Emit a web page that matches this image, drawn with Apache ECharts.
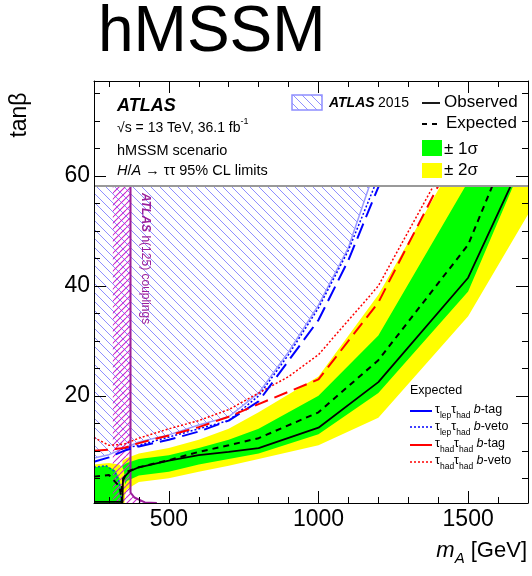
<!DOCTYPE html>
<html><head><meta charset="utf-8">
<script src="https://cdn.jsdelivr.net/npm/echarts@6/dist/echarts.min.js"></script>
<style>html,body{margin:0;padding:0;background:#fff}#c{width:532px;height:576px}</style>
</head><body><div id="c"></div>
<script>
// ---------- data ----------
const xMin = 250, xMax = 1700, yMin = 0.5, yMax = 77.3;
const legendFloor = 58.2;
const xMajor = [500, 1000, 1500];
const xMinor = [300,400,600,700,800,900,1100,1200,1300,1400,1600,1700];
const yMajor = [20, 40, 60];
const yMinor = [5,10,15,25,30,35,45,50,55,65,70,75];

const bandMass = [345, 360, 400, 500, 600, 700, 800, 1000, 1200, 1500, 1700];
const yellowUp = [8.2, 8.7, 9.5, 10.5, 12, 14, 17, 23.5, 38.4, 67, 90];
const greenUp  = [7.3, 7.8, 8.5, 9.2, 10.5, 12, 14, 20, 31, 59, 80];
const greenLo  = [3, 4.5, 5.5, 6.2, 7.5, 8.5, 9.5, 13, 20.5, 39, 64.5];
const yellowLo = [0.5, 3, 4.3, 5, 6.2, 7.3, 8.5, 11, 16, 34.5, 53];

const expMass = [343, 343, 360, 400, 500, 600, 700, 800, 1000, 1200, 1500, 1700];
const expVal  = [0.5, 4, 6.2, 7, 8.3, 9.8, 11, 12.3, 17, 26.5, 47.5, 74];
const obsMass = [250, 345, 347, 370, 400, 500, 600, 700, 800, 1000, 1200, 1500, 1700];
const obsVal  = [0.7, 0.7, 5, 6.3, 7, 8.2, 9.2, 9.8, 10.5, 14.2, 22.5, 41.5, 65];

// low-mass corner
const lowYMass = [250, 250, 300, 335, 350, 355, 352];
const lowYVal  = [0.5, 7.5, 7.8, 7.5, 6.5, 3, 0.5];
const lowGMass = [250, 250, 290, 320, 335, 342, 340];
const lowGVal  = [0.5, 7, 7.3, 6.5, 5, 2.5, 0.5];
const lowExpMass = [250, 300, 335, 345];
const lowExpVal  = [5.3, 5.6, 3.5, 0.5];
const lowDotMass = [250, 290, 320, 335, 340, 340];
const lowDotVal  = [7.0, 7.3, 6.2, 4, 2, 0.5];

// ATLAS 2015 excluded region border
const hatchMass = [250, 300, 400, 500, 600, 700, 800, 900, 1000, 1100, 1170, 1200];
const hatchVal  = [8.7, 9.3, 11.6, 12.9, 14.7, 16.2, 20.5, 28, 36.5, 47, 58.2, 62];

// h(125) couplings
const hcMass = [372, 372, 385, 420, 460];
const hcVal  = [legendFloor, 2.4, 1.5, 0.6, 0.5];
const hcHatchMass = [313, 372, 372, 385, 420, 460, 313];
const hcHatchVal  = [legendFloor, legendFloor, 2.4, 1.5, 0.6, 0.5, 0.5];

// individual expected channels
const lhTagMass = [250, 300, 350, 400, 500, 600, 700, 800, 1000, 1100, 1200, 1250];
const lhTagVal  = [8, 8.8, 10, 10.8, 12, 13.5, 15.5, 19, 33.8, 44.7, 58, 64];
const lhVetoMass = [340, 400, 500, 600, 700, 800, 900, 1000, 1100, 1190, 1230];
const lhVetoVal  = [10.3, 11, 12.5, 14, 15.5, 20, 27.5, 36, 46.5, 58.5, 63];
const hhTagMass = [250, 300, 350, 400, 500, 600, 700, 800, 1000, 1200, 1400, 1500];
const hhTagVal  = [10, 10.2, 10.5, 11.4, 12.8, 14.3, 16.2, 18.5, 23, 37, 58.2, 68.5];
const hhVetoMass = [250, 300, 350, 400, 500, 600, 700, 800, 900, 1000, 1200, 1400, 1500];
const hhVetoVal  = [12.4, 11, 11.2, 12.3, 14, 15.5, 17.5, 20.5, 23.5, 27.5, 40, 59.8, 70];

// ---------- helpers ----------
const FONT = "'Liberation Sans', Arial, Helvetica, sans-serif";
function pairs(xs, ys) { return xs.map((x, i) => [x, ys[i]]); }
function hatchCanvas(color, period, dir, lw) {
  const c = document.createElement('canvas'); c.width = period; c.height = period;
  const g = c.getContext('2d'); g.strokeStyle = color; g.lineWidth = lw;
  g.beginPath();
  for (let k = -1; k <= 1; k++) {
    if (dir === 'down') { g.moveTo(k * period, 0); g.lineTo(k * period + period, period); }
    else { g.moveTo(k * period, period); g.lineTo(k * period + period, 0); }
  }
  g.stroke(); return c;
}
const blueHatch = { image: hatchCanvas('#8f8fff', 9, 'down', 1), repeat: 'repeat' };
const magHatch = { image: hatchCanvas('#cc22cc', 6, 'up', 1.1), repeat: 'repeat' };

function poly(name, xs, ys, style, z) {
  return {
    type: 'custom', name, z, clip: true, silent: true, data: [[xs[0], ys[0]]],
    renderItem: (params, api) => ({
      type: 'polygon',
      shape: { points: xs.map((x, i) => api.coord([x, ys[i]])) },
      style: style
    })
  };
}
function band(name, xs, up, lo, color, z) {
  return poly(name, xs.concat(xs.slice().reverse()), up.concat(lo.slice().reverse()), { fill: color }, z);
}
function line(name, xs, ys, color, width, dash, z) {
  return {
    type: 'line', name, z, data: pairs(xs, ys), symbol: 'none', silent: true,
    lineStyle: { color, width, type: dash || 'solid', cap: 'butt' }
  };
}

const hatchPolyX = hatchMass.concat([hatchMass[hatchMass.length - 1], xMin]);
const hatchPolyY = hatchVal.concat([yMax, yMax]);

const series = [
  band('yellow', bandMass, yellowUp, yellowLo, '#ffff00', 1),
  band('green', bandMass, greenUp, greenLo, '#00ff00', 2),
  poly('lowY', lowYMass, lowYVal, { fill: '#ffff00' }, 2),
  poly('lowG', lowGMass, lowGVal, { fill: '#00ff00' }, 3),
  poly('atlas2015', hatchPolyX, hatchPolyY, { fill: blueHatch }, 4),
  line('atlas2015border', hatchMass, hatchVal, '#9a9aff', 1.5, null, 4),
  poly('hcHatch', hcHatchMass, hcHatchVal, { fill: magHatch }, 5),
  line('hc', hcMass, hcVal, '#9b1f9b', 2, null, 5),
  line('lhVeto', lhVetoMass, lhVetoVal, '#0000ff', 1.5, [2, 2], 6),
  line('hhVeto', hhVetoMass, hhVetoVal, '#ff0000', 1.5, [2, 2], 6),
  line('lhTag', lhTagMass, lhTagVal, '#0000ff', 2, [16, 7], 6),
  line('hhTag', hhTagMass, hhTagVal, '#ff0000', 2, [14, 7], 6),
  line('lowDot', lowDotMass, lowDotVal, '#0050d0', 1.5, [2, 2], 6),
  line('lowExp', lowExpMass, lowExpVal, '#000000', 2, [6, 5], 7),
  line('expected', expMass, expVal, '#000000', 2, [6, 5], 7),
  line('observed', obsMass, obsVal, '#000000', 1.8, null, 7),
  {
    type: 'custom', name: 'legendPad', z: 9, silent: true, data: [[xMin, legendFloor]],
    renderItem: (params, api) => {
      const a = api.coord([xMin, legendFloor]), b = api.coord([xMax, yMax]);
      return {
        type: 'group', children: [
          { type: 'rect', shape: { x: a[0], y: b[1], width: b[0] - a[0], height: a[1] - b[1] }, style: { fill: '#fff' } },
          { type: 'line', shape: { x1: a[0], y1: a[1], x2: b[0], y2: a[1] }, style: { stroke: '#999', lineWidth: 2 } }
        ]
      };
    }
  }
];

function xAx(pos, ticks, len, labels, showLine) {
  return {
    type: 'value', position: pos, min: xMin, max: xMax, z: 20,
    axisLine: { show: showLine, onZero: false, lineStyle: { color: '#000', width: 1 } },
    axisTick: { show: true, inside: true, length: len, customValues: ticks, lineStyle: { color: '#000' } },
    axisLabel: labels ? { show: true, customValues: ticks, fontSize: 23, fontFamily: FONT, color: '#000', margin: 5, formatter: v => String(v) } : { show: false },
    splitLine: { show: false }
  };
}
function yAx(pos, ticks, len, labels, showLine) {
  return {
    type: 'value', position: pos, min: yMin, max: yMax, z: 20,
    axisLine: { show: showLine, onZero: false, lineStyle: { color: '#000', width: 1 } },
    axisTick: { show: true, inside: true, length: len, customValues: ticks, lineStyle: { color: '#000' } },
    axisLabel: labels ? { show: true, customValues: ticks, fontSize: 23, fontFamily: FONT, color: '#000', margin: 4, formatter: v => String(v) } : { show: false },
    splitLine: { show: false }
  };
}

function txt(x, y, text, size, opts) {
  return Object.assign({
    type: 'text', x, y, z: 100,
    style: Object.assign({ text, fontSize: size, fontFamily: FONT, fill: '#000', align: 'left', verticalAlign: 'middle' }, (opts && opts.style) || {})
  }, (opts && opts.el) || {});
}

const subRich = (fs, sfs) => ({
  n: { fontSize: fs, fontFamily: FONT, lineHeight: fs + 8, verticalAlign: 'middle' },
  i: { fontSize: fs, fontFamily: FONT, fontStyle: 'italic', lineHeight: fs + 8, verticalAlign: 'middle' },
  b: { fontSize: fs, fontFamily: FONT, fontStyle: 'italic', fontWeight: 'bold', lineHeight: fs + 8, verticalAlign: 'middle' },
  s: { fontSize: sfs, fontFamily: FONT, lineHeight: sfs, verticalAlign: 'bottom' },
  si: { fontSize: sfs, fontFamily: FONT, fontStyle: 'italic', lineHeight: sfs, verticalAlign: 'bottom' },
  p: { fontSize: sfs, fontFamily: FONT, lineHeight: sfs, verticalAlign: 'top' }
});

const graphics = [
  txt(98, 33, 'hMSSM', 64),
  txt(20, 115, 'tanβ', 23, { el: { rotation: Math.PI / 2 }, style: { align: 'center' } }),
  { type: 'text', x: 527, y: 551, z: 100, style: { text: '{i|m}{si|A}{n| [GeV]}', align: 'right', verticalAlign: 'middle', rich: subRich(22, 15), fill: '#000' } },
  // top-left block
  txt(117, 106, 'ATLAS', 18, { style: { fontWeight: 'bold', fontStyle: 'italic' } }),
  { type: 'text', x: 117, y: 128, z: 100, style: { text: '{n|√s = 13 TeV, 36.1 fb}{p|-1}', verticalAlign: 'middle', rich: subRich(14, 9), fill: '#000' } },
  txt(117, 151, 'hMSSM scenario', 14.5),
  { type: 'text', x: 117, y: 171, z: 100, style: { text: '{i|H}{n|/}{i|A}{n| → ττ 95% CL limits}', verticalAlign: 'middle', rich: subRich(14.5, 10), fill: '#000' } },
  // ATLAS 2015 legend
  { type: 'rect', z: 100, shape: { x: 292, y: 95, width: 30, height: 15 }, style: { fill: blueHatch, stroke: '#8f8fff', lineWidth: 1.5 } },
  { type: 'text', x: 329, y: 103, z: 100, style: { text: '{b|ATLAS} {n|2015}', verticalAlign: 'middle', rich: subRich(14, 10), fill: '#000' } },
  // main legend
  { type: 'line', z: 100, shape: { x1: 422, y1: 103, x2: 440, y2: 103 }, style: { stroke: '#000', lineWidth: 1.8 } },
  txt(444, 102, 'Observed', 17),
  { type: 'line', z: 100, shape: { x1: 422, y1: 124, x2: 441, y2: 124 }, style: { stroke: '#000', lineWidth: 2, lineDash: [5, 5] } },
  txt(446, 123, 'Expected', 17),
  { type: 'rect', z: 100, shape: { x: 422, y: 140, width: 20, height: 16 }, style: { fill: '#00ff00' } },
  txt(444, 149, '± 1σ', 17),
  { type: 'rect', z: 100, shape: { x: 422, y: 163, width: 20, height: 15 }, style: { fill: '#ffff00' } },
  txt(444, 170, '± 2σ', 17),
  // expected channel legend
  txt(410, 391, 'Expected', 12.5),
  { type: 'line', z: 100, shape: { x1: 410, y1: 411, x2: 432, y2: 411 }, style: { stroke: '#0000ff', lineWidth: 2 } },
  { type: 'line', z: 100, shape: { x1: 410, y1: 427, x2: 432, y2: 427 }, style: { stroke: '#0000ff', lineWidth: 1.5, lineDash: [2, 2] } },
  { type: 'line', z: 100, shape: { x1: 410, y1: 445, x2: 432, y2: 445 }, style: { stroke: '#ff0000', lineWidth: 2 } },
  { type: 'line', z: 100, shape: { x1: 410, y1: 462, x2: 432, y2: 462 }, style: { stroke: '#ff0000', lineWidth: 1.5, lineDash: [2, 2] } },
  { type: 'text', x: 435, y: 410, z: 100, style: { text: '{n|τ}{s|lep}{n|τ}{s|had} {i|b}{n|-tag}', verticalAlign: 'middle', rich: subRich(12.5, 8.5), fill: '#000' } },
  { type: 'text', x: 435, y: 427, z: 100, style: { text: '{n|τ}{s|lep}{n|τ}{s|had} {i|b}{n|-veto}', verticalAlign: 'middle', rich: subRich(12.5, 8.5), fill: '#000' } },
  { type: 'text', x: 435, y: 444, z: 100, style: { text: '{n|τ}{s|had}{n|τ}{s|had} {i|b}{n|-tag}', verticalAlign: 'middle', rich: subRich(12.5, 8.5), fill: '#000' } },
  { type: 'text', x: 435, y: 461, z: 100, style: { text: '{n|τ}{s|had}{n|τ}{s|had} {i|b}{n|-veto}', verticalAlign: 'middle', rich: subRich(12.5, 8.5), fill: '#000' } },
  // h(125) couplings label
  { type: 'text', x: 145, y: 193, z: 100, rotation: -Math.PI / 2, style: {
      text: '{b|ATLAS} {n|h(125) couplings}', align: 'left', verticalAlign: 'middle', fill: '#9b1f9b',
      rich: {
        b: { fontSize: 12, fontFamily: FONT, fontStyle: 'italic', fontWeight: 'bold', fill: '#9b1f9b' },
        n: { fontSize: 12, fontFamily: FONT, fill: '#9b1f9b' }
      } } }
];

const chart = echarts.init(document.getElementById('c'), null, { renderer: 'canvas' });
chart.setOption({
  animation: false,
  backgroundColor: '#fff',
  grid: { left: 94, right: 4, top: 81, bottom: 73, containLabel: false },
  xAxis: [
    xAx('bottom', xMajor, 12, true, true),
    xAx('bottom', xMinor, 6, false, false),
    xAx('top', xMajor, 12, false, true),
    xAx('top', xMinor, 6, false, false)
  ],
  yAxis: [
    yAx('left', yMajor, 12, true, true),
    yAx('left', yMinor, 6, false, false),
    yAx('right', yMajor, 12, false, true),
    yAx('right', yMinor, 6, false, false)
  ],
  series: series,
  graphic: graphics
});
</script>
</body></html>
